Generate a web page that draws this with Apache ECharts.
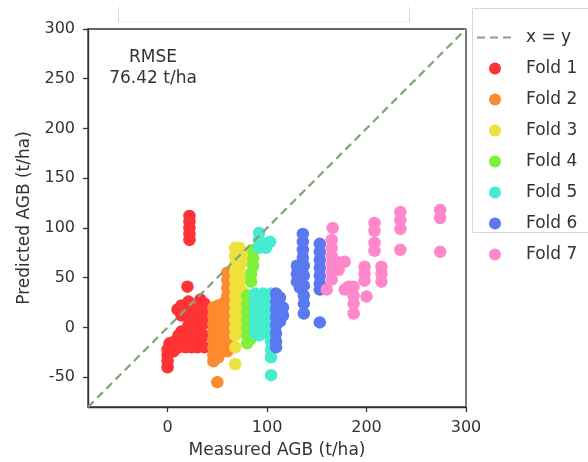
<!DOCTYPE html>
<html>
<head>
<meta charset="utf-8">
<script src="https://cdn.jsdelivr.net/npm/echarts@6/dist/echarts.min.js"></script>
<style>html,body{margin:0;padding:0;background:#fff;}#c{width:588px;height:462px;}</style>
</head>
<body>
<div id="c"></div>
<script>
// ---- data ----
const xTicks = [0, 100, 200, 300];
const yTicks = [-50, 0, 50, 100, 150, 200, 250, 300];
const foldNames = ['Fold 1','Fold 2','Fold 3','Fold 4','Fold 5','Fold 6','Fold 7'];
const foldColors = ['#fe3336','#fd8a2e','#eee13c','#7ff03a','#45ecd0','#5a78f0','#ff88cc'];
const identityLine = [[-80,-80],[300,300]];
const rmseText = 'RMSE\n76.42 t/ha';

const fold1 = [
[0,-40],[0,-34],[0,-28],[0,-22],[2,-16],
[6,-24],[7,-14],
[10,18],[11,-8],[11,-20],
[14,22],[14,12],[14,-4],[14,-16],
[18,16],[18,-10],[18,-20],
[20,41],
[21,26],[21,10],[21,2],[21,-4],
[22,112],[22,106],[22,100],[22,94],[22,88],
[24,-8],[24,-14],[24,-20],
[27,18],[27,8],[27,-2],
[30,-12],[30,-20],
[33,28],[33,20],[33,12],[33,4],[33,-6],[33,-16],
[37,24],[37,14],[37,4],[37,-8],[37,-20]
];
const fold2 = [
[46,20],[46,12],[46,4],[46,-4],[46,-12],[46,-20],[46,-28],[46,-34],
[50,-55],
[51,22],[51,-16],[51,-24],[51,-30],
[54,18],[54,8],[54,-2],[54,-10],[54,-20],
[57,25],[57,14],[57,-6],[57,-14],
[60,55],[60,48],[60,40],[60,32],[60,24],[60,16],[60,8],[60,0],[60,-8],[60,-16],[60,-24],
[63,30],[63,18],[63,4],[63,-10]
];
const fold3 = [
[68,80],[68,72],[68,64],[68,56],[68,48],[68,40],[68,32],[68,24],[68,16],[68,8],[68,0],[68,-8],[68,-20],[68,-37],
[72,80],[72,70],[72,58],[72,44],[72,30],[72,18],[72,6],[72,-4],
[75,76],[75,66],[75,50],[75,36],[75,22],[75,10]
];
const fold4 = [
[86,78],[86,70],[86,62],[84,54],[84,46],
[80,32],[80,24],[80,16],[80,8],[80,0],[80,-8],[80,-16],
[83,30],[83,18],[83,6],[83,-6],[83,-12]
];
const fold5 = [
[92,95],[92,88],[92,80],[95,84],[99,80],[103,86],
[88,34],[88,26],[88,18],[88,10],[88,2],[88,-6],
[92,32],[92,22],[92,12],[92,2],[92,-8],
[96,34],[96,24],[96,14],[96,4],[96,-6],
[100,30],[100,20],[100,10],[100,0],
[104,34],[104,26],[104,18],[104,10],[104,2],[104,-6],[104,-14],[104,-22],[104,-30],[104,-48]
];
const fold6 = [
[109,34],[109,26],[109,18],[109,10],[109,2],[109,-6],[109,-14],[109,-20],
[113,30],[113,22],[113,14],[113,6],[116,20],[116,12],
[136,94],[136,86],[136,78],[136,70],
[130,62],[130,54],[130,46],[133,58],[133,40],
[137,62],[137,52],[137,42],[137,32],[137,24],[137,14],
[153,84],[153,76],[153,68],[153,60],[153,52],[153,44],[153,38],
[153,5]
];
const fold7 = [
[160,38],
[165,88],[165,80],[165,72],[165,64],[165,56],[165,48],
[166,100],
[170,66],[172,58],
[178,66],[178,38],
[182,41],[187,41],[187,32],[187,24],[187,14],
[198,61],[198,54],[198,47],
[200,31],
[208,105],[208,97],[208,85],[208,77],
[215,61],[215,54],[215,46],
[234,116],[234,108],[234,99],[234,78],
[274,118],[274,110],[274,76]
];
const folds = [fold1, fold2, fold3, fold4, fold5, fold6, fold7];

// ---- chart ----
const FONT = 'DejaVu Sans';
const TXT = '#333';
const chart = echarts.init(document.getElementById('c'), null, {renderer: 'canvas'});

const series = folds.map((d, i) => ({
  name: foldNames[i],
  type: 'scatter',
  data: d,
  symbol: 'circle',
  symbolSize: 12.5,
  itemStyle: {color: foldColors[i], opacity: 1},
  emphasis: {disabled: true},
  z: 2
}));
series.push({
  name: 'x = y',
  type: 'line',
  data: identityLine,
  symbol: 'none',
  showSymbol: false,
  lineStyle: {color: '#84a47e', width: 2.3, type: [8, 5]},
  itemStyle: {color: '#84a47e'},
  z: 5,
  clip: true,
  silent: true
});

const axisCommon = {
  type: 'value',
  min: -80,
  max: 300,
  nameLocation: 'middle',
  nameTextStyle: {fontFamily: FONT, fontSize: 17, color: TXT},
  axisLine: {show: true, onZero: false, lineStyle: {color: '#333', width: 1.3}},
  axisTick: {show: true, inside: false, length: 5, lineStyle: {color: '#333', width: 1.3}},
  axisLabel: {fontFamily: FONT, fontSize: 16, color: TXT, margin: 13},
  splitLine: {show: false}
};

chart.setOption({
  animation: false,
  backgroundColor: '#fff',
  grid: {left: 88, right: 122, top: 29, bottom: 55, containLabel: false, outerBoundsMode: 'none',
         show: true, borderColor: '#333', borderWidth: 1.3, backgroundColor: 'transparent'},
  xAxis: Object.assign({}, axisCommon, {
    name: 'Measured AGB (t/ha)', nameGap: 35,
    axisTick: Object.assign({}, axisCommon.axisTick, {customValues: xTicks}),
    axisLabel: Object.assign({}, axisCommon.axisLabel, {customValues: xTicks})
  }),
  yAxis: Object.assign({}, axisCommon, {
    name: 'Predicted AGB (t/ha)', nameGap: 54,
    axisTick: Object.assign({}, axisCommon.axisTick, {customValues: yTicks}),
    axisLabel: Object.assign({}, axisCommon.axisLabel, {customValues: yTicks})
  }),
  legend: {
    orient: 'vertical',
    left: 476,
    top: 29,
    padding: 0,
    itemWidth: 36,
    itemHeight: 12,
    itemGap: 14,
    selectedMode: false,
    data: [{name: 'x = y', itemStyle: {opacity: 0}}].concat(foldNames.map(n => ({name: n, icon: 'circle'}))),
    textStyle: {fontFamily: FONT, fontSize: 17, color: TXT, padding: [0, 0, 0, 8]}
  },
  graphic: [
    {type: 'rect', shape: {x: 472.5, y: 8.5, width: 130, height: 224}, style: {fill: '#fff', stroke: '#d8d8d8', lineWidth: 1}, z: -1, silent: true},
    {type: 'line', shape: {x1: 118.5, y1: 7, x2: 118.5, y2: 22}, style: {stroke: '#d8d8d8', lineWidth: 1}, silent: true},
    {type: 'line', shape: {x1: 409.5, y1: 7, x2: 409.5, y2: 22}, style: {stroke: '#d8d8d8', lineWidth: 1}, silent: true},
    {type: 'line', shape: {x1: 118.5, y1: 21.5, x2: 409.5, y2: 21.5}, style: {stroke: '#efefef', lineWidth: 1}, silent: true},
    {type: 'text', x: 153, y: 47, silent: true,
     style: {text: rmseText, fontFamily: FONT, fontSize: 17, fill: TXT, align: 'center', verticalAlign: 'top', lineHeight: 21}}
  ],
  series: series
});
</script>
</body>
</html>
